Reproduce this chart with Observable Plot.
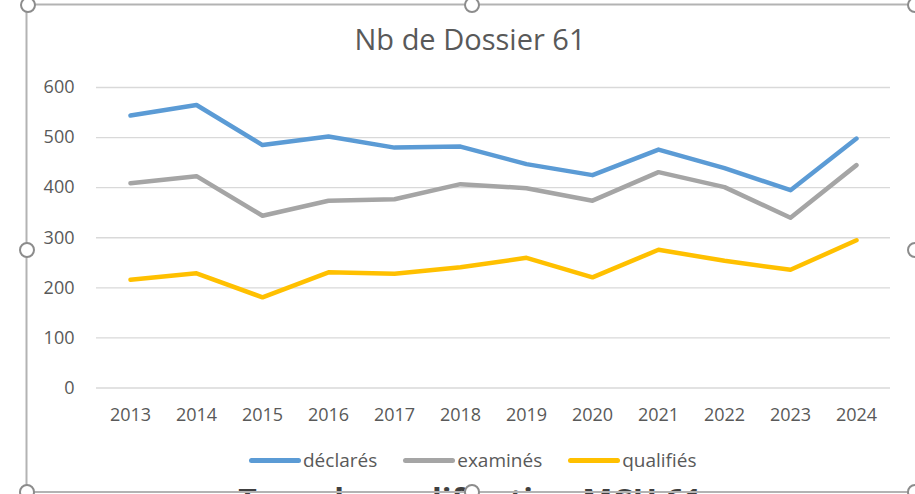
<!DOCTYPE html>
<html>
<head>
<meta charset="utf-8">
<script src="https://cdn.jsdelivr.net/npm/d3@7"></script>
<script src="https://cdn.jsdelivr.net/npm/@observablehq/plot@0.6"></script>
<style>
  html, body { margin: 0; padding: 0; background: #fff; }
  #wrap { position: relative; width: 915px; height: 494px; overflow: hidden; background: #fff; font-family: "Open Sans", sans-serif; color: #595959; }
  #title { position: absolute; left: 25px; top: 22px; width: 890px; text-align: center; font-size: 29px; line-height: 1.2; color: #595959; }
  #chart { position: absolute; left: 0; top: 0; }
  #legend { position: absolute; left: 249px; top: 447px; display: flex; align-items: center; font-size: 19px; color: #595959; }
  .item { display: flex; align-items: center; margin-right: 26px; }
  .swatch { width: 52px; height: 5px; border-radius: 3px; margin-right: 2px; }
  #next { position: absolute; left: 25px; top: 484px; width: 890px; text-align: center; font-size: 32px; line-height: 1; font-weight: bold; color: #404040; }
  #overlay { position: absolute; left: 0; top: 0; pointer-events: none; }
</style>
</head>
<body>
<div id="wrap">
  <div id="title"></div>
  <div id="chart"></div>
  <div id="legend"></div>
  <div id="next"></div>
</div>
<script>
const titleText = "Nb de Dossier 61";
const nextTitle = "Taux de qualification MCU 61";
const years = ["2013","2014","2015","2016","2017","2018","2019","2020","2021","2022","2023","2024"];
const declares = [544, 565, 485, 502, 480, 482, 447, 425, 476, 439, 395, 498];
const examines = [409, 423, 344, 374, 377, 407, 399, 374, 431, 401, 340, 445];
const qualifies = [216, 229, 181, 231, 228, 241, 260, 221, 276, 254, 236, 295];
const seriesNames = ["déclarés", "examinés", "qualifiés"];
const seriesColors = ["#5B9BD5", "#A5A5A5", "#FFC000"];
const yTicks = [0, 100, 200, 300, 400, 500, 600];

const seriesValues = [declares, examines, qualifies];
const data = [];
seriesNames.forEach((s, i) => years.forEach((y, j) => data.push({series: s, year: y, value: seriesValues[i][j]})));

document.getElementById("title").textContent = titleText;
document.getElementById("next").textContent = nextTitle;

const chart = Plot.plot({
  width: 915,
  height: 440,
  marginLeft: 96,
  marginRight: 25,
  marginTop: 87,
  marginBottom: 52.5,
  x: {type: "point", domain: years, padding: 0.5},
  y: {domain: [0, 600]},
  color: {domain: seriesNames, range: seriesColors},
  style: {fontFamily: "Open Sans, sans-serif", fontSize: "18px", color: "#595959", background: "transparent"},
  marks: [
    Plot.ruleY(yTicks, {stroke: "#d9d9d9", strokeWidth: 1.3}),
    Plot.axisY({ticks: yTicks, tickSize: 0, tickPadding: 22, label: null}),
    Plot.axisX({tickSize: 0, tickPadding: 20, label: null}),
    Plot.line(data, {x: "year", y: "value", z: "series", stroke: "series", strokeWidth: 4.5, strokeLinecap: "round", strokeLinejoin: "round"})
  ]
});
document.getElementById("chart").appendChild(chart);

const legend = document.getElementById("legend");
seriesNames.forEach((s, i) => {
  const it = document.createElement("div");
  it.className = "item";
  const sw = document.createElement("span");
  sw.className = "swatch";
  sw.style.background = seriesColors[i];
  const tx = document.createElement("span");
  tx.textContent = s;
  it.appendChild(sw); it.appendChild(tx);
  legend.appendChild(it);
});

// selection frame and handles (decoration)
const ns = "http://www.w3.org/2000/svg";
const ov = document.createElementNS(ns, "svg");
ov.setAttribute("id", "overlay");
ov.setAttribute("width", 915);
ov.setAttribute("height", 494);
const frame = document.createElementNS(ns, "path");
frame.setAttribute("d", "M930,4.5 H26.5 V492 H930");
frame.setAttribute("fill", "none");
frame.setAttribute("stroke", "#b3b3b3");
frame.setAttribute("stroke-width", 2);
ov.appendChild(frame);
[[28, 5], [472, 5], [915, 5], [27, 250], [915, 250], [27, 492], [472, 492], [915, 492]].forEach(([cx, cy]) => {
  const c = document.createElementNS(ns, "circle");
  c.setAttribute("cx", cx); c.setAttribute("cy", cy); c.setAttribute("r", 7);
  c.setAttribute("fill", "#fff"); c.setAttribute("stroke", "#8c8c8c"); c.setAttribute("stroke-width", 2);
  ov.appendChild(c);
});
document.getElementById("wrap").appendChild(ov);
</script>
</body>
</html>
